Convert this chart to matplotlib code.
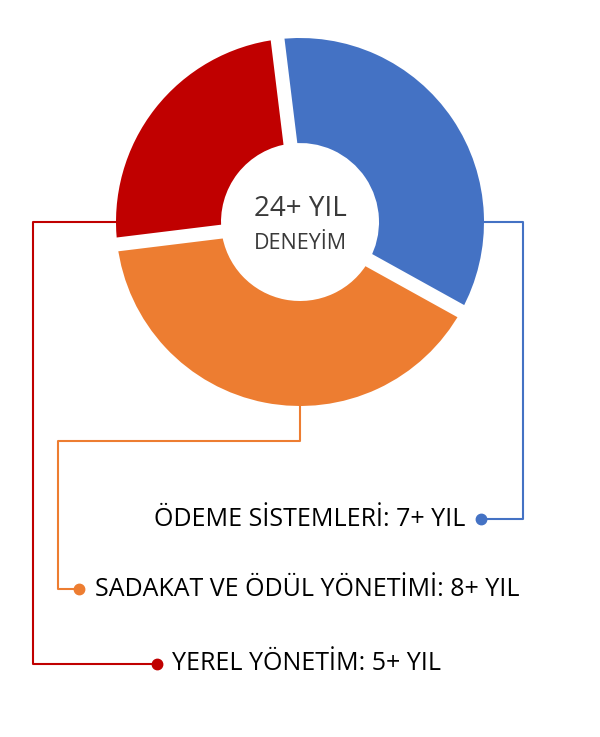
import matplotlib
matplotlib.use("Agg")
import matplotlib.pyplot as plt
import numpy as np

# ---- data ----
categories = ["ÖDEME SİSTEMLERİ", "SADAKAT VE ÖDÜL YÖNETİMİ", "YEREL YÖNETİM"]
years = [7, 8, 5]
colors = ["#4472C4", "#ED7D31", "#C00000"]
center_title = "24+ YIL"
center_sub = "DENEYİM"

plt.rcParams['font.family'] = ['Open Sans', 'DejaVu Sans']

W, H = 600, 737
fig = plt.figure(figsize=(W / 100, H / 100), dpi=100)
ax = fig.add_axes([0, 0, 1, 1])
ax.set_xlim(0, W)
ax.set_ylim(0, H)
ax.set_aspect('equal')
ax.axis('off')

def Y(py):
    return H - py

cx, cy = 300, Y(222)
R_out, R_in = 184, 79
start = 97

wedges, _ = ax.pie(years, colors=colors, startangle=start, counterclock=False,
                   center=(cx, cy), radius=R_out, frame=True,
                   wedgeprops=dict(width=R_out - R_in, linewidth=0))
ax.set_xlim(0, W)
ax.set_ylim(0, H)
ax.axis('off')

# white gaps between slices
tot = sum(years)
ang = start
for v in years:
    a = np.deg2rad(ang)
    ax.plot([cx, cx + (R_out + 5) * np.cos(a)], [cy, cy + (R_out + 5) * np.sin(a)],
            color='white', lw=10, solid_capstyle='butt', zorder=3)
    ang -= v / tot * 360

# center text
ax.text(cx, Y(209), center_title, ha='center', va='center', fontsize=20, color='#3A3A3A')
ax.text(cx, Y(243), center_sub, ha='center', va='center', fontsize=15.5, color='#3A3A3A')

lw = 1.5
ms = 7.5
fs = 18
# blue leader (right)
bx = [cx + R_out, 523, 523, 481]
by = [cy, cy, Y(519), Y(519)]
ax.plot(bx, by, color=colors[0], lw=lw, zorder=1)
ax.plot(bx[-1], by[-1], 'o', color=colors[0], ms=ms, zorder=4)
ax.text(465, Y(519), f"{categories[0]}: {years[0]}+ YIL", ha='right', va='center',
        fontsize=fs, color='black')

# orange leader (bottom)
ox = [cx, cx, 58, 58, 79]
oy = [cy - R_out, Y(441), Y(441), Y(589), Y(589)]
ax.plot(ox, oy, color=colors[1], lw=lw, zorder=1)
ax.plot(ox[-1], oy[-1], 'o', color=colors[1], ms=ms, zorder=4)
ax.text(95, Y(589), f"{categories[1]}: {years[1]}+ YIL", ha='left', va='center',
        fontsize=fs, color='black')

# red leader (left)
rx = [cx - R_out, 33, 33, 157]
ry = [cy, cy, Y(664), Y(664)]
ax.plot(rx, ry, color=colors[2], lw=lw, zorder=1)
ax.plot(rx[-1], ry[-1], 'o', color=colors[2], ms=ms, zorder=4)
ax.text(172, Y(664), f"{categories[2]}: {years[2]}+ YIL", ha='left', va='center',
        fontsize=fs, color='black')

fig.savefig("out.png", dpi=100)
